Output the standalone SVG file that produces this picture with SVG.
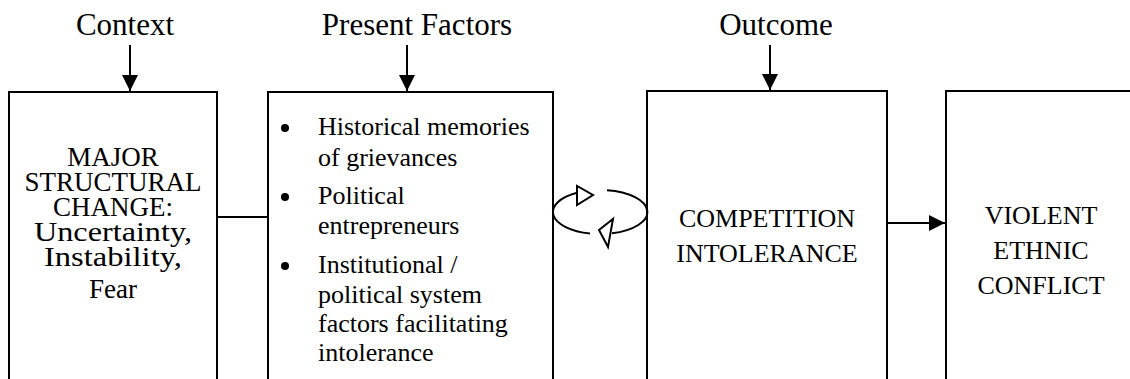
<svg xmlns="http://www.w3.org/2000/svg" width="1130" height="379" viewBox="0 0 1130 379">
<defs>
<style>
text{fill:#000}
.h{font-size:31px;text-anchor:middle}
.b{font-size:26px}
.m{font-size:27px}
.c{text-anchor:middle}
.box{fill:#fff;stroke:#000;stroke-width:2}
.ln{fill:none;stroke:#000;stroke-width:2}
.oh{fill:#fff;stroke:#000;stroke-width:2;stroke-linejoin:miter}
</style>
<marker id="ah" viewBox="0 0 16 16" refX="16" refY="8" markerWidth="16" markerHeight="16" markerUnits="userSpaceOnUse" orient="auto">
<path d="M0,0 L16,8 L0,16 Z" fill="#000"/>
</marker>
</defs>
<rect width="1130" height="379" fill="#fff"/>
<g font-family="Liberation Serif, Times New Roman, DejaVu Serif, serif">
<g id="heading-context"><text class="h" x="125" y="35">Context</text></g>
<g id="heading-present"><text class="h" x="417" y="35">Present Factors</text></g>
<g id="heading-outcome"><text class="h" x="776" y="35">Outcome</text></g>
<g id="node-context">
<rect class="box" x="9" y="92" width="208" height="300"/>
<text class="m c" x="113" y="166">MAJOR</text>
<text class="m c" x="113" y="191">STRUCTURAL</text>
<text class="m c" x="113" y="216">CHANGE:</text>
<text class="m c" x="113" y="241" textLength="158" lengthAdjust="spacingAndGlyphs">Uncertainty,</text>
<text class="m c" x="113" y="266" textLength="138" lengthAdjust="spacingAndGlyphs">Instability,</text>
<text class="m c" x="113" y="298">Fear</text>
</g>
<g id="node-present">
<rect class="box" x="268" y="92" width="285" height="300"/>
<circle cx="285" cy="128" r="4"/>
<circle cx="285" cy="197" r="4"/>
<circle cx="285" cy="266" r="4"/>
<text class="b" x="318" y="135">Historical memories</text>
<text class="b" x="318" y="166">of grievances</text>
<text class="b" x="318" y="204">Political</text>
<text class="b" x="318" y="234">entrepreneurs</text>
<text class="b" x="318" y="273">Institutional /</text>
<text class="b" x="318" y="303">political system</text>
<text class="b" x="318" y="332">factors facilitating</text>
<text class="b" x="318" y="361">intolerance</text>
</g>
<g id="node-outcome">
<rect class="box" x="647" y="91" width="240" height="300"/>
<text class="b c" x="767" y="227">COMPETITION</text>
<text class="b c" x="767" y="262">INTOLERANCE</text>
</g>
<g id="node-conflict">
<rect class="box" x="946" y="91" width="194" height="300"/>
<text class="b c" x="1041" y="224">VIOLENT</text>
<text class="b c" x="1041" y="259">ETHNIC</text>
<text class="b c" x="1041" y="294">CONFLICT</text>
</g>
</g>
<g id="connectors">
<line class="ln" x1="130" y1="45" x2="130" y2="91" marker-end="url(#ah)"/>
<line class="ln" x1="407" y1="45" x2="407" y2="91" marker-end="url(#ah)"/>
<line class="ln" x1="770" y1="45" x2="770" y2="90" marker-end="url(#ah)"/>
<line class="ln" x1="217" y1="217" x2="268" y2="217"/>
<line class="ln" x1="887" y1="223" x2="945" y2="223" marker-end="url(#ah)"/>
<path class="ln" d="M577,192.8 A47,22 0 0 0 590,233.5"/>
<path class="ln" d="M607,190.2 A47,22 0 0 1 612,233.3"/>
<polygon class="oh" points="577,186 577,205 593,195"/>
<polygon class="oh" points="599,230 613,219 608,247"/>
</g>
</svg>
